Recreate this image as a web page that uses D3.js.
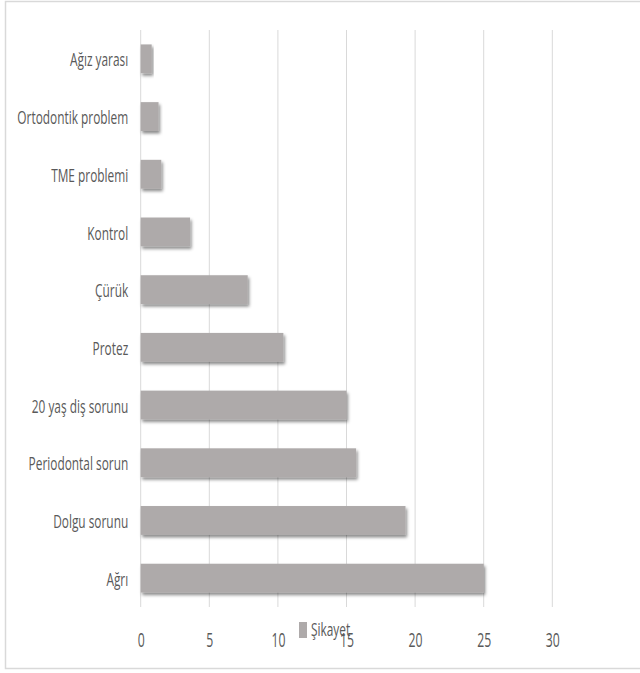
<!DOCTYPE html>
<html><head><meta charset="utf-8">
<script src="https://cdn.jsdelivr.net/npm/d3@7"></script>
<style>
body{margin:0;background:#fff;}
text{font-family:"Open Sans","Noto Sans",sans-serif;}
</style></head><body>
<svg id="c" width="640" height="673"></svg>
<script>
const categories = ["Ağız yarası","Ortodontik problem","TME problemi","Kontrol","Çürük","Protez","20 yaş diş sorunu","Periodontal sorun","Dolgu sorunu","Ağrı"];
const values = [0.8, 1.3, 1.5, 3.6, 7.8, 10.4, 15.0, 15.7, 19.3, 25.0];
const xTicks = [0,5,10,15,20,25,30];
const seriesName = "Şikayet";

const svg = d3.select("#c");
const defs = svg.append("defs");
const f = defs.append("filter").attr("id","sh").attr("x","-10%").attr("y","-20%").attr("width","130%").attr("height","160%");
f.append("feDropShadow").attr("dx",1.5).attr("dy",2.5).attr("stdDeviation",1.6).attr("flood-color","#000").attr("flood-opacity",0.45);

svg.append("rect").attr("x",5.5).attr("y",1.5).attr("width",640).attr("height",667)
  .attr("fill","#fff").attr("stroke","#d9d9d9").attr("stroke-width",1.5);

const x = d3.scaleLinear().domain([0,30]).range([140.7,552.3]);
const y = d3.scaleBand().domain(categories).range([30,607]).paddingInner(0.5).paddingOuter(0.25);

svg.append("g").selectAll("line").data(xTicks.slice(1)).join("line")
  .attr("x1",d=>x(d)).attr("x2",d=>x(d)).attr("y1",30).attr("y2",607)
  .attr("stroke","#d9d9d9").attr("stroke-width",1);
svg.append("line").attr("x1",x(0)).attr("x2",x(0)).attr("y1",30).attr("y2",607)
  .attr("stroke","#d9d9d9").attr("stroke-width",1);

svg.append("g").selectAll("rect").data(categories).join("rect")
  .attr("x",x(0)).attr("y",d=>y(d))
  .attr("width",(d,i)=>x(values[i])-x(0)).attr("height",y.bandwidth())
  .attr("fill","#aeaaaa").attr("filter","url(#sh)");

function measure(str, size){
  const t = svg.append("text").attr("font-size",size).text(str);
  const w = t.node().getComputedTextLength(); t.remove(); return w;
}

// category labels
const labSize = 19;
const sxL = 111 / measure("Ortodontik problem", labSize);
const gy = svg.append("g").attr("transform",`translate(${x(0)},0)`).call(d3.axisLeft(y).tickSize(0).tickPadding(0));
gy.select(".domain").remove();
gy.selectAll("text").attr("font-size",labSize).attr("fill","#595959")
  .attr("x",-12.5/sxL).attr("dy","0.4em").attr("transform",`scale(${sxL},1)`);

// x tick labels
const tickSize = 20;
const sxT = 14 / measure("25", tickSize);
const gx = svg.append("g").attr("transform","translate(0,647)").call(d3.axisBottom(x).tickValues(xTicks).tickSize(0).tickPadding(0));
gx.select(".domain").remove();
gx.selectAll("text").attr("font-size",tickSize).attr("fill","#595959")
  .attr("dy",0).attr("y",0).attr("transform",`scale(${sxT},1)`);

// legend
const lg = svg.append("g");
lg.append("rect").attr("x",299).attr("y",622).attr("width",8).attr("height",16).attr("fill","#aeaaaa");
lg.append("text").attr("x",311/sxL).attr("y",636).attr("font-size",labSize).attr("fill","#595959")
  .attr("transform",`scale(${sxL},1)`).text(seriesName);
</script>
</body></html>
